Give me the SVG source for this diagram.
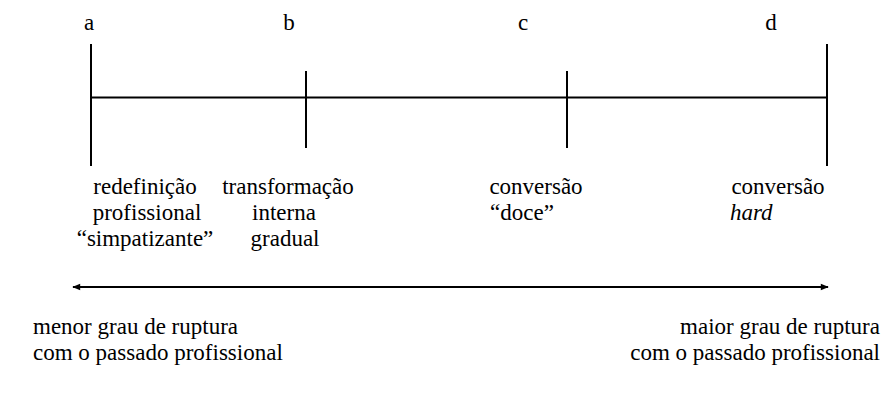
<svg xmlns="http://www.w3.org/2000/svg" width="889" height="400" viewBox="0 0 889 400">
  <style>
    .c { text-anchor: middle; }
    .r { text-anchor: end; }
    .ln { stroke: #000; stroke-width: 2; fill: none; }
  </style>
  <defs>
    <marker id="head" viewBox="0 0 10 10" refX="9" refY="5" markerWidth="9" markerHeight="8" orient="auto-start-reverse" markerUnits="userSpaceOnUse">
      <path d="M0,1 L10,5 L0,9 Z" fill="#000"/>
    </marker>
  </defs>
  <rect width="889" height="400" fill="#fff"/>

  <!-- scale line and double-headed arrow -->
  <g id="connectors">
    <path class="ln" d="M91,97.5 H827"/>
    <path class="ln" d="M73,287 H828" marker-start="url(#head)" marker-end="url(#head)"/>
  </g>

  <g id="point-a">
    <path class="ln" d="M91,44 V166"/>
    <text class="c" x="89" y="30" font-family="Liberation Serif" font-size="23">a</text>
    <text class="c" x="145" y="194" font-family="Liberation Serif" font-size="23">redefinição</text>
    <text class="c" x="147" y="220" font-family="Liberation Serif" font-size="23">profissional</text>
    <text class="c" x="145" y="246" font-family="Liberation Serif" font-size="23">“simpatizante”</text>
  </g>

  <g id="point-b">
    <path class="ln" d="M306,71 V148"/>
    <text class="c" x="289" y="30" font-family="Liberation Serif" font-size="23">b</text>
    <text class="c" x="288" y="194" font-family="Liberation Serif" font-size="23">transformação</text>
    <text class="c" x="284" y="220" font-family="Liberation Serif" font-size="23">interna</text>
    <text class="c" x="285" y="246" font-family="Liberation Serif" font-size="23">gradual</text>
  </g>

  <g id="point-c">
    <path class="ln" d="M567,71 V148"/>
    <text class="c" x="523" y="30" font-family="Liberation Serif" font-size="23">c</text>
    <text class="c" x="536" y="194" font-family="Liberation Serif" font-size="23">conversão</text>
    <text class="c" x="522" y="220" font-family="Liberation Serif" font-size="23">“doce”</text>
  </g>

  <g id="point-d">
    <path class="ln" d="M827,44 V166"/>
    <text class="c" x="771" y="30" font-family="Liberation Serif" font-size="23">d</text>
    <text class="c" x="778" y="194" font-family="Liberation Serif" font-size="23">conversão</text>
    <text x="730" y="220" font-family="Liberation Serif" font-size="23" font-style="italic">hard</text>
  </g>

  <g id="end-left">
    <text x="33" y="334" font-family="Liberation Serif" font-size="23">menor grau de ruptura</text>
    <text x="33" y="360" font-family="Liberation Serif" font-size="23">com o passado profissional</text>
  </g>

  <g id="end-right">
    <text class="r" x="880" y="334" font-family="Liberation Serif" font-size="23">maior grau de ruptura</text>
    <text class="r" x="880" y="360" font-family="Liberation Serif" font-size="23">com o passado profissional</text>
  </g>
</svg>
